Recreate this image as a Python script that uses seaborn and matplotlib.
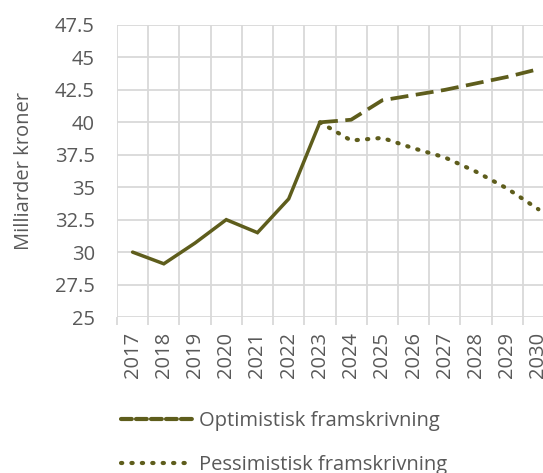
import numpy as np
import pandas as pd
import matplotlib
matplotlib.use('Agg')
import matplotlib.pyplot as plt
from matplotlib.lines import Line2D
import seaborn as sns

# data
hist_years = [2017, 2018, 2019, 2020, 2021, 2022, 2023]
hist_vals = [30.0, 29.1, 30.7, 32.5, 31.5, 34.1, 40.0]
proj_years = [2023, 2024, 2025, 2026, 2027, 2028, 2029, 2030]
opt_vals = [40.0, 40.2, 41.7, 42.1, 42.5, 43.0, 43.5, 44.1]
pess_vals = [40.0, 38.6, 38.8, 38.0, 37.3, 36.2, 34.9, 33.3]
y_ticks = [25, 27.5, 30, 32.5, 35, 37.5, 40, 42.5, 45, 47.5]
y_labels = ['25', '27.5', '30', '32.5', '35', '37.5', '40', '42.5', '45', '47.5']

OLIVE = '#5E5D1C'
GRID = '#D9D9D9'
TXT = '#595959'
FS = 14.5

sns.set_style('white')
plt.rcParams['font.family'] = ['Open Sans', 'DejaVu Sans']

fig = plt.figure(figsize=(5.43, 4.73), dpi=100)
ax = fig.add_axes([117/543, 1 - 317/473, (554-117)/543, 292/473])

df_hist = pd.DataFrame({'year': hist_years, 'val': hist_vals})
df_opt = pd.DataFrame({'year': proj_years, 'val': opt_vals})
df_pess = pd.DataFrame({'year': proj_years, 'val': pess_vals})

sns.lineplot(data=df_hist, x='year', y='val', ax=ax, color=OLIVE, linewidth=2.5,
             solid_joinstyle='miter', zorder=3)
sns.lineplot(data=df_opt, x='year', y='val', ax=ax, color=OLIVE, linewidth=2.7, zorder=3)
ax.lines[-1].set_dashes((4.8, 2.0))
ax.lines[-1].set_dash_capstyle('butt')
sns.lineplot(data=df_pess, x='year', y='val', ax=ax, color=OLIVE, linewidth=3.0, zorder=3)
ax.lines[-1].set_dashes((0.3, 2.2))
ax.lines[-1].set_dash_capstyle('round')

years_all = list(range(hist_years[0], proj_years[-1] + 1))
ax.set_xlim(years_all[0] - 0.5, years_all[-1] + 0.5)
ax.set_ylim(y_ticks[0], y_ticks[-1])
ax.set_xticks(years_all)
ax.set_xticklabels([str(y) for y in years_all], rotation=90)
ax.set_xticks([y - 0.5 for y in years_all] + [years_all[-1] + 0.5], minor=True)
ax.set_yticks(y_ticks)
ax.set_yticklabels(y_labels)

ax.grid(True, which='minor', axis='x', color=GRID, linewidth=1.3)
ax.grid(True, which='major', axis='y', color=GRID, linewidth=1.3)
ax.tick_params(axis='x', which='major', length=0, labelsize=FS, labelcolor=TXT, pad=11)
ax.tick_params(axis='x', which='minor', length=6, width=1.3, color=GRID, bottom=True)
ax.tick_params(axis='y', length=0, labelsize=FS, labelcolor=TXT, pad=16)
for s in ax.spines.values():
    s.set_visible(False)
ax.set_xlabel('')
ax.set_ylabel('Milliarder kroner', fontsize=FS, color=TXT, labelpad=15)

handles = [Line2D([], [], color=OLIVE, linewidth=3.0, dashes=(2.6, 1.0), dash_capstyle='round'),
           Line2D([], [], color=OLIVE, linewidth=3.0, dashes=(0.3, 2.2), dash_capstyle='round')]
fig.legend(handles, ['Optimistisk framskrivning', 'Pessimistisk framskrivning'],
           loc='upper left', bbox_to_anchor=(113/543, 1 - 403/473), frameon=False,
           fontsize=FS, labelcolor=TXT, handlelength=3.5, handletextpad=0.35,
           labelspacing=1.2, borderaxespad=0)

fig.savefig('out.png', dpi=100)
